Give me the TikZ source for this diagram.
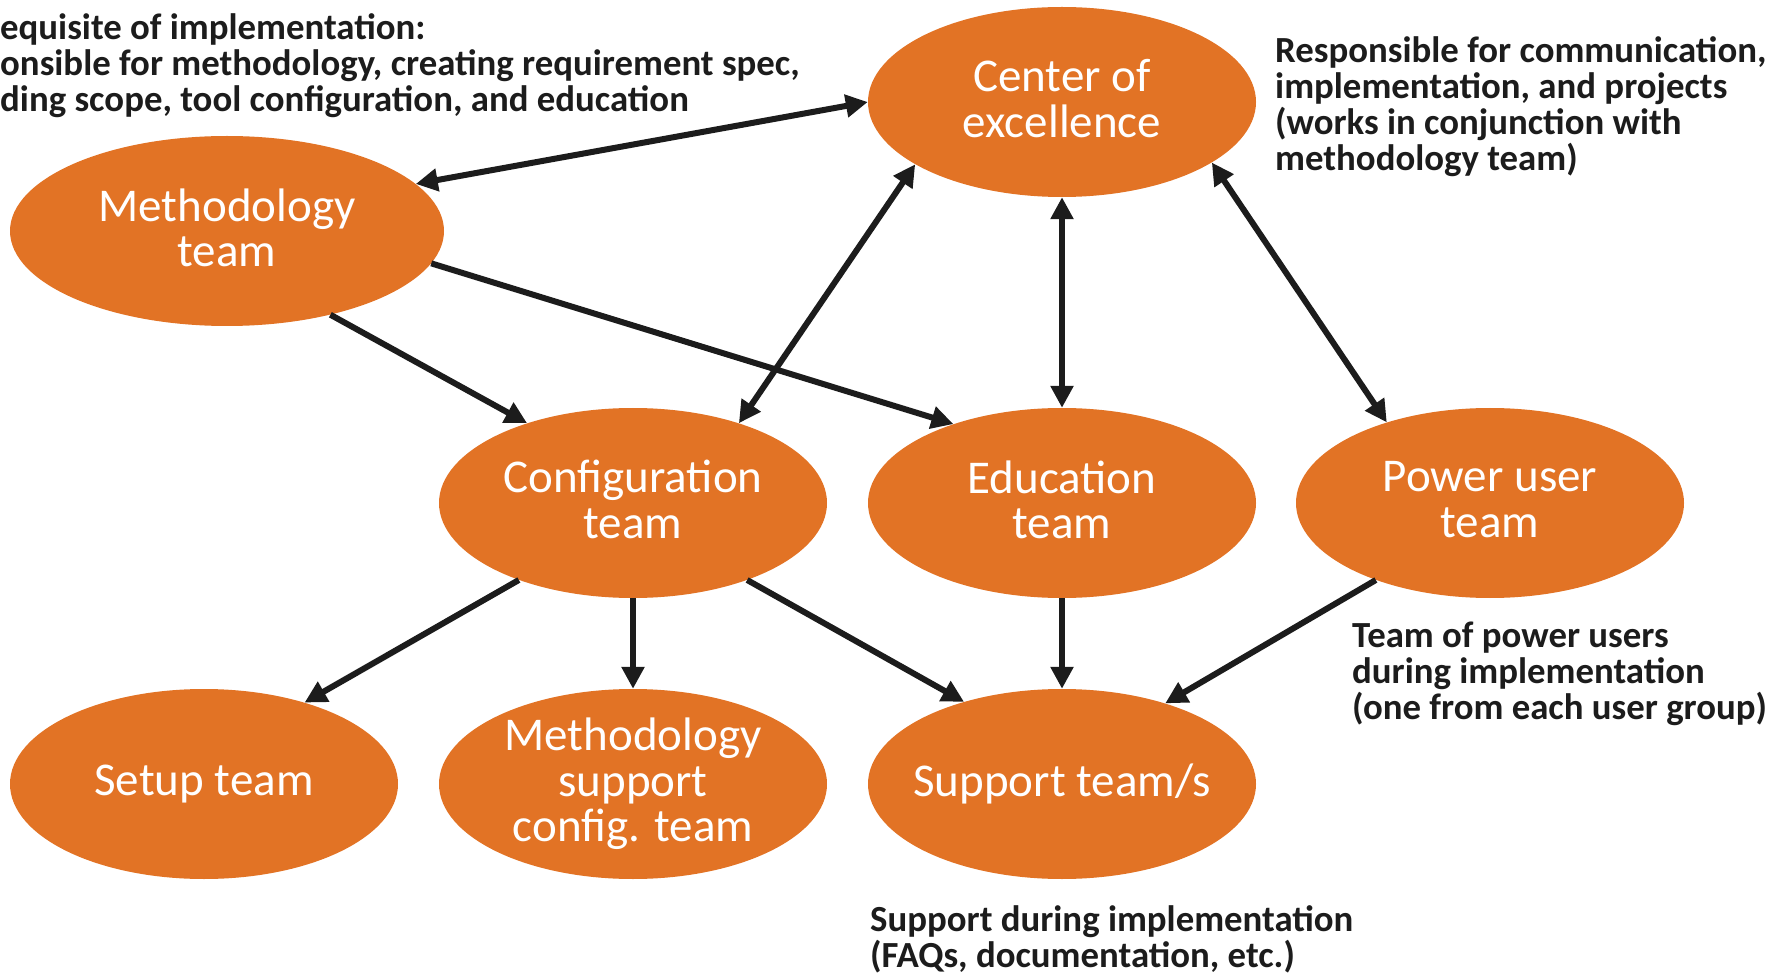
\documentclass[tikz,border=0pt]{standalone}
\usepackage{fontspec}
\setmainfont{Carlito}
\usetikzlibrary{arrows.meta,shapes.geometric}
\definecolor{orng}{RGB}{226,115,37}
\definecolor{ink}{RGB}{28,28,28}
\begin{document}
\begin{tikzpicture}[x=1pt,y=-1pt,
  team/.style={ellipse,fill=orng,draw=none,minimum width=388pt,minimum height=190pt,
    inner sep=-30pt,align=center,text=white,font=\fontsize{47}{45.5}\selectfont},
  two/.style={text depth=7pt},
  note/.style={anchor=north west,inner sep=0pt,align=left,text=ink,
    font=\fontsize{36.8}{36}\selectfont\bfseries},
  link/.style={draw=ink,line width=6pt,-{Triangle[length=22pt,width=22pt]}},
  dlink/.style={draw=ink,line width=6pt,{Triangle[length=22pt,width=22pt]}-{Triangle[length=22pt,width=22pt]}}]
\useasboundingbox (0,0) rectangle (1781,973);
\node[team,two] (coe) at (1062,102) {Center of\\excellence};
\node[team,two,minimum width=434pt] (meth) at (227,231) {Methodology\\team};
\node[team,two] (conf) at (633,503) {Configuration\\team};
\node[team,two] (edu) at (1062,503) {Education\\team};
\node[team,two] (pow) at (1490,503) {Power user\\team};
\node[team] (setup) at (204,784) {Setup team};
\node[team] (msc) at (633,784) {Methodology\\support\\config. team};
\node[team] (sup) at (1062,784) {Support team/s};

\node[note] (n1) at (0,13) {equisite of implementation:\\onsible for methodology, creating requirement spec,\\ding scope, tool configuration, and education};
\node[note] (n2) at (1275,36) {Responsible for communication,\\implementation, and projects\\(works in conjunction with\\methodology team)};
\node[note] (n3) at (1352,622) {Team of power users\\during implementation\\(one from each user group)};
\node[note] (n4) at (870,905) {Support during implementation\\(FAQs, documentation, etc.)};

\draw[dlink] (coe.180.7) -- (meth.14.2);
\draw[link] (meth.-39) -- (conf.143.7);
\draw[link] (meth.-9.1) -- (edu.144.4);
\draw[dlink] (coe.203.3) -- (conf.37.6);
\draw[dlink] (coe.270) -- (edu.90);
\draw[dlink] (coe.-22.9) -- (pow.142.2);
\draw[link] (conf.214.5) -- (setup.39.3);
\draw[link] (conf.270) -- (msc.90);
\draw[link] (conf.-34.4) -- (sup.140.3);
\draw[link] (edu.270) -- (sup.90);
\draw[link] (pow.214.6) -- (sup.38.5);
\end{tikzpicture}
\end{document}
